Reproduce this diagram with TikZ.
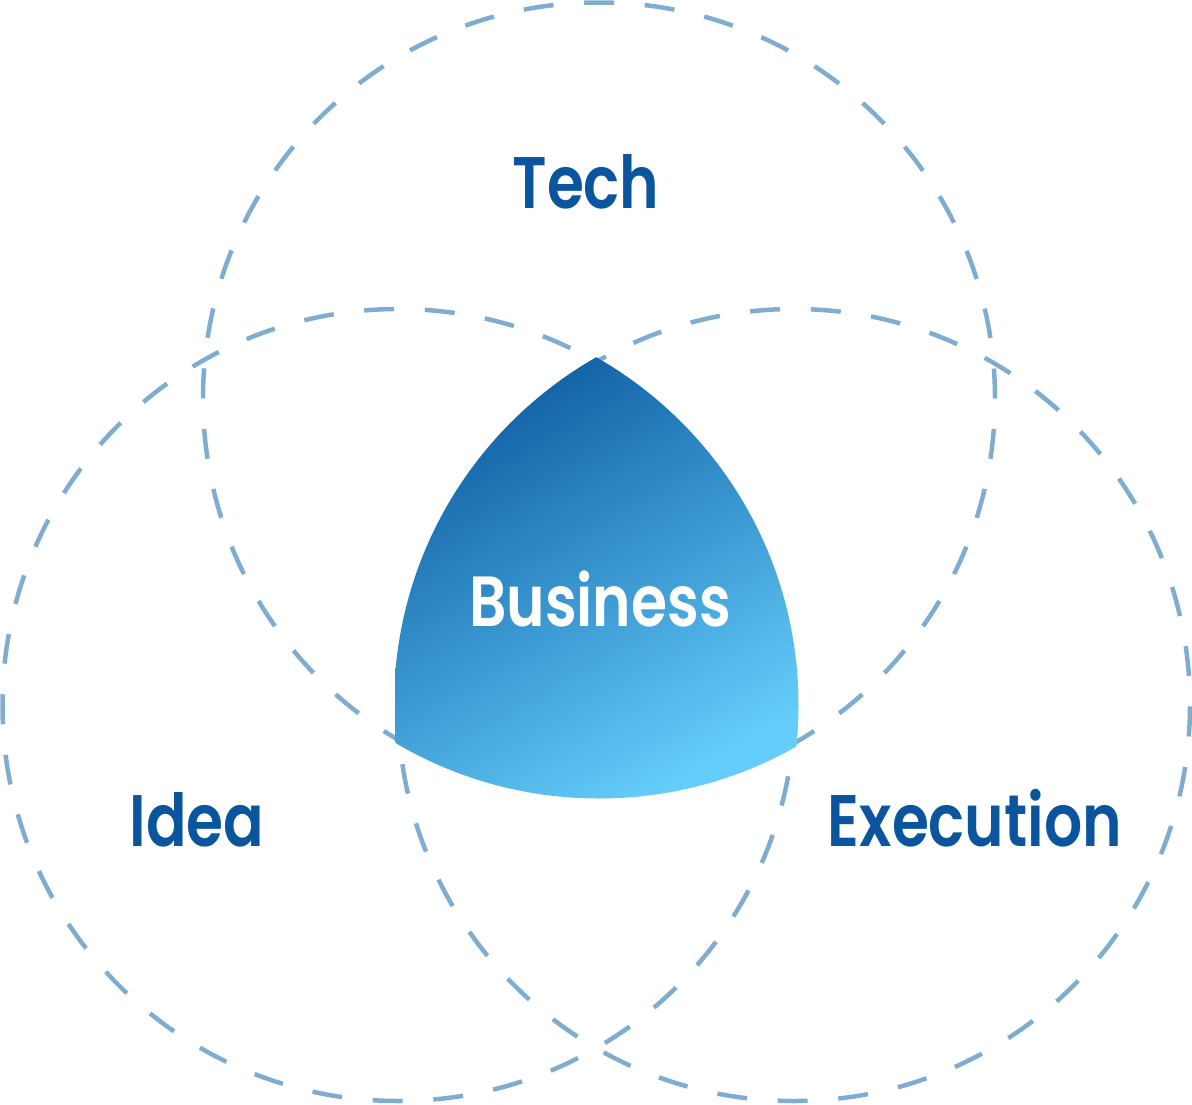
\documentclass[tikz,border=0pt]{standalone}
\usepackage{fontspec}
\setmainfont{Poppins}[FakeStretch=0.82, BoldFont={Poppins SemiBold}]
\definecolor{dashc}{HTML}{7FADD2}
\definecolor{txtc}{HTML}{0A559D}
\definecolor{gtop}{HTML}{0F5FA3}
\definecolor{gbot}{HTML}{64CDFB}
\tikzset{
  ring/.style={draw=dashc, line width=4.5pt, dash pattern=on 30pt off 30.7pt},
  lbl/.style={text=txtc, font=\fontsize{73}{73}\selectfont\bfseries, anchor=base, inner sep=0pt},
  blbl/.style={text=white, font=\fontsize{71}{71}\selectfont\bfseries, anchor=base, inner sep=0pt}
}
\begin{document}
\begin{tikzpicture}[x=1pt,y=1pt]
\useasboundingbox (0,-1104) rectangle (1192,0);
% dashed circles
\draw[ring, dash phase=0pt] (599,-398.5) circle (396);
\draw[ring, dash phase=41.2pt] (398.5,-705) circle (396);
\draw[ring, dash phase=31.7pt] (794,-705) circle (396);
% central intersection
\begin{scope}
  \clip (599,-398.5) circle (400);
  \clip (398.5,-705) circle (400);
  \clip (794,-705) circle (400);
  \shade[top color=gtop, bottom color=gbot, shading angle=30] (395,-355) rectangle (800,-805);
\end{scope}
\node[lbl] (tech) at (586,-208) {Tech};
\node[lbl] (idea) at (197,-846) {Idea};
\node[lbl] (exec) at (975,-846) {Execution};
\node[blbl] (biz) at (600,-626) {Business};
\end{tikzpicture}
\end{document}
